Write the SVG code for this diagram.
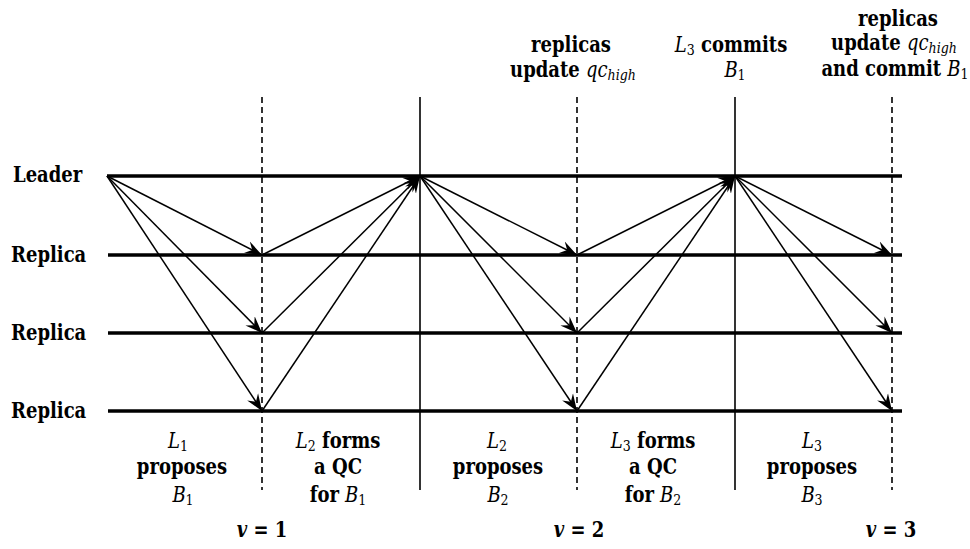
<svg xmlns="http://www.w3.org/2000/svg" width="970" height="549" viewBox="0 0 970 549">
<style>
text{font-family:'DejaVu Serif Condensed','DejaVu Serif',serif;font-stretch:condensed;font-weight:bold;font-size:20px;fill:#000}
.lab{text-anchor:middle}
.m{font-style:italic;font-weight:normal}
.s{font-weight:normal;font-size:14px}
.si{font-weight:normal;font-style:italic;font-size:14px}
.tl{stroke:#000;stroke-width:3.5;fill:none}
.ar{stroke:#000;stroke-width:1.5;fill:none;marker-end:url(#ah)}
.vs{stroke:#000;stroke-width:1.6}
.vd{stroke:#000;stroke-width:1.6;stroke-dasharray:6 4}
</style>
<defs>
<marker id="ah" viewBox="-17 -7 17 14" markerWidth="17" markerHeight="14" refX="0" refY="0" orient="auto" markerUnits="userSpaceOnUse">
<path d="M0,0 L-17,-6.5 L-11,0 L-17,6.5 z" fill="#000"/>
</marker>
</defs>
<rect width="970" height="549" fill="#fff"/>

<g id="dividers">
<line class="vd" x1="262" y1="97" x2="262" y2="490"/>
<line class="vs" x1="420" y1="97" x2="420" y2="490"/>
<line class="vd" x1="577" y1="97" x2="577" y2="490"/>
<line class="vs" x1="735" y1="97" x2="735" y2="490"/>
<line class="vd" x1="892" y1="97" x2="892" y2="490"/>
</g>

<g id="leader">
<line class="tl" x1="107" y1="176" x2="902" y2="176"/>
<text transform="translate(13,182) scale(1,1.1)">Leader</text>
</g>
<g id="replica1">
<line class="tl" x1="108" y1="255" x2="902" y2="255"/>
<text transform="translate(11,262) scale(1,1.1)">Replica</text>
</g>
<g id="replica2">
<line class="tl" x1="108" y1="333" x2="902" y2="333"/>
<text transform="translate(11,340) scale(1,1.1)">Replica</text>
</g>
<g id="replica3">
<line class="tl" x1="108" y1="411" x2="902" y2="411"/>
<text transform="translate(11,418) scale(1,1.1)">Replica</text>
</g>

<g id="connectors">
<line class="ar" x1="107" y1="176" x2="262" y2="255"/>
<line class="ar" x1="107" y1="176" x2="262" y2="333"/>
<line class="ar" x1="107" y1="176" x2="262" y2="411"/>
<line class="ar" x1="262" y1="255" x2="420" y2="176"/>
<line class="ar" x1="262" y1="333" x2="420" y2="176"/>
<line class="ar" x1="262" y1="411" x2="420" y2="176"/>
<line class="ar" x1="420" y1="176" x2="577" y2="255"/>
<line class="ar" x1="420" y1="176" x2="577" y2="333"/>
<line class="ar" x1="420" y1="176" x2="577" y2="411"/>
<line class="ar" x1="577" y1="255" x2="735" y2="176"/>
<line class="ar" x1="577" y1="333" x2="735" y2="176"/>
<line class="ar" x1="577" y1="411" x2="735" y2="176"/>
<line class="ar" x1="735" y1="176" x2="892" y2="255"/>
<line class="ar" x1="735" y1="176" x2="892" y2="333"/>
<line class="ar" x1="735" y1="176" x2="892" y2="411"/>
</g>

<g id="top-labels">
<text class="lab" transform="translate(571,52) scale(1,1.1)">replicas</text>
<text class="lab" transform="translate(573,77) scale(1,1.1)">update <tspan class="m">qc</tspan><tspan class="si" dy="3">high</tspan></text>
<text class="lab" transform="translate(731,52) scale(1,1.1)"><tspan class="m">L</tspan><tspan class="s" dy="3">3</tspan><tspan dy="-3"> commits</tspan></text>
<text class="lab" transform="translate(735,77) scale(1,1.1)"><tspan class="m">B</tspan><tspan class="s" dy="3">1</tspan></text>
<text class="lab" transform="translate(898,26) scale(1,1.1)">replicas</text>
<text class="lab" transform="translate(894,50) scale(1,1.1)">update <tspan class="m">qc</tspan><tspan class="si" dy="3">high</tspan></text>
<text class="lab" transform="translate(895,76) scale(1,1.1)">and commit <tspan class="m">B</tspan><tspan class="s" dy="3">1</tspan></text>
</g>

<g id="phase-labels">
<text class="lab" transform="translate(178,448) scale(1,1.1)"><tspan class="m">L</tspan><tspan class="s" dy="3">1</tspan></text>
<text class="lab" transform="translate(182,474) scale(1,1.1)">proposes</text>
<text class="lab" transform="translate(183,502) scale(1,1.1)"><tspan class="m">B</tspan><tspan class="s" dy="3">1</tspan></text>

<text class="lab" transform="translate(338,448) scale(1,1.1)"><tspan class="m">L</tspan><tspan class="s" dy="3">2</tspan><tspan dy="-3"> forms</tspan></text>
<text class="lab" transform="translate(338,474) scale(1,1.1)">a QC</text>
<text class="lab" transform="translate(338,502) scale(1,1.1)">for <tspan class="m">B</tspan><tspan class="s" dy="3">1</tspan></text>

<text class="lab" transform="translate(497,448) scale(1,1.1)"><tspan class="m">L</tspan><tspan class="s" dy="3">2</tspan></text>
<text class="lab" transform="translate(498,474) scale(1,1.1)">proposes</text>
<text class="lab" transform="translate(498,502) scale(1,1.1)"><tspan class="m">B</tspan><tspan class="s" dy="3">2</tspan></text>

<text class="lab" transform="translate(653,448) scale(1,1.1)"><tspan class="m">L</tspan><tspan class="s" dy="3">3</tspan><tspan dy="-3"> forms</tspan></text>
<text class="lab" transform="translate(653,474) scale(1,1.1)">a QC</text>
<text class="lab" transform="translate(653,502) scale(1,1.1)">for <tspan class="m">B</tspan><tspan class="s" dy="3">2</tspan></text>

<text class="lab" transform="translate(812,448) scale(1,1.1)"><tspan class="m">L</tspan><tspan class="s" dy="3">3</tspan></text>
<text class="lab" transform="translate(812,474) scale(1,1.1)">proposes</text>
<text class="lab" transform="translate(812,502) scale(1,1.1)"><tspan class="m">B</tspan><tspan class="s" dy="3">3</tspan></text>
</g>

<g id="view-labels">
<text class="lab" transform="translate(262,537) scale(1,1.1)"><tspan font-style="italic">v</tspan> = 1</text>
<text class="lab" transform="translate(579,537) scale(1,1.1)"><tspan font-style="italic">v</tspan> = 2</text>
<text class="lab" transform="translate(891,537) scale(1,1.1)"><tspan font-style="italic">v</tspan> = 3</text>
</g>
</svg>
